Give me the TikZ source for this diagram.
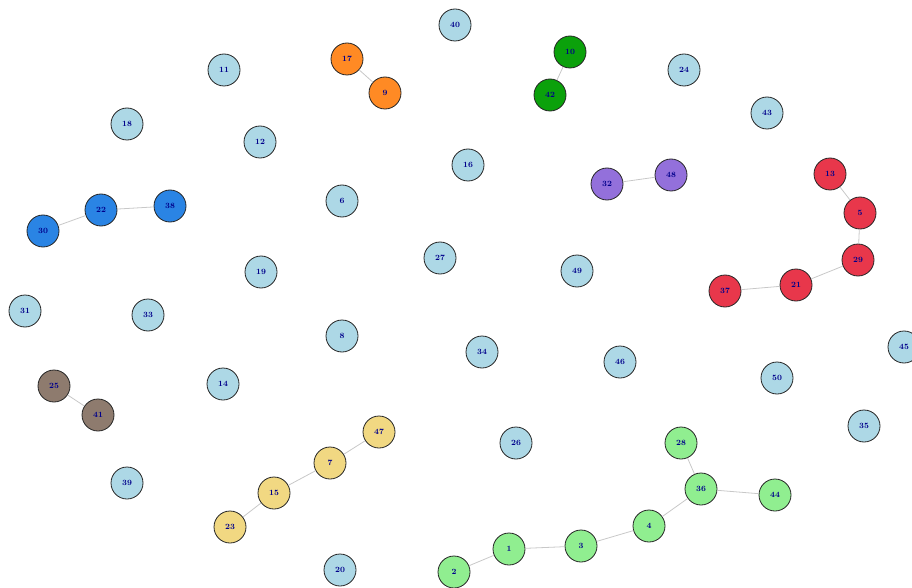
\documentclass[tikz,border=0pt]{standalone}
\usepackage{xcolor}
\usepackage{tikz}
\usetikzlibrary{positioning}

\definecolor{nodeblue}{HTML}{ADD8E6}
\definecolor{nodeorange}{HTML}{FF8A24}
\definecolor{nodegreen}{HTML}{0BA10B}
\definecolor{nodeazure}{HTML}{2A84E4}
\definecolor{nodepurple}{HTML}{9370DB}
\definecolor{nodered}{HTML}{E8374B}
\definecolor{nodebrown}{HTML}{8E7B6E}
\definecolor{nodeyellow}{HTML}{F1D882}
\definecolor{nodelime}{HTML}{90EE90}
\definecolor{labelnavy}{HTML}{00008B}
\definecolor{edgegray}{HTML}{C8C8C8}

\begin{document}
\begin{tikzpicture}[x=1pt, y=-1pt,
  vertex/.style={circle, draw=black!85, line width=0.8pt, minimum size=32pt, inner sep=0pt,
    font=\fontsize{8}{9}\selectfont\bfseries, text=labelnavy},
  link/.style={edgegray, line width=0.8pt}]
\useasboundingbox (0,0) rectangle (912,588);
% isolated and grouped vertices
\foreach \n/\x/\y/\c in {40/455/25/nodeblue, 10/570/52/nodegreen, 42/550/95/nodegreen,
    17/347/59/nodeorange, 9/385/93/nodeorange, 11/224/70/nodeblue, 24/684/70/nodeblue,
    43/767/113/nodeblue, 18/127/124/nodeblue, 12/260/142/nodeblue, 16/468/165/nodeblue,
    32/607/184/nodepurple, 48/671/175/nodepurple, 13/830/174/nodered, 5/860/213/nodered,
    29/858/260/nodered, 21/796/285/nodered, 37/725/291/nodered, 22/101/210/nodeazure,
    38/170/206/nodeazure, 30/43/231/nodeazure, 6/342/201/nodeblue, 27/440/258/nodeblue,
    49/577/271/nodeblue, 19/261/272/nodeblue, 31/25/311/nodeblue, 33/148/315/nodeblue,
    8/342/336/nodeblue, 34/482/352/nodeblue, 46/620/362/nodeblue, 45/904/347/nodeblue,
    50/777/378/nodeblue, 25/54/386/nodebrown, 41/98/415/nodebrown, 14/223/384/nodeblue,
    47/379/432/nodeyellow, 7/330/463/nodeyellow, 15/274/493/nodeyellow, 23/230/527/nodeyellow,
    39/127/483/nodeblue, 26/516/443/nodeblue, 28/681/443/nodelime, 36/701/489/nodelime,
    44/775/495/nodelime, 4/649/526/nodelime, 3/581/546/nodelime, 1/509/549/nodelime,
    2/454/572/nodelime, 20/340/570/nodeblue, 35/864/426/nodeblue} {
  \node[vertex, fill=\c] (v\n) at (\x,\y) {\n};
}
% edges
\foreach \a/\b in {30/22, 22/38, 17/9, 10/42, 32/48, 13/5, 5/29, 29/21, 21/37, 25/41,
    23/15, 15/7, 7/47, 2/1, 1/3, 3/4, 4/36, 36/28, 36/44} {
  \draw[link] (v\a) -- (v\b);
}
\end{tikzpicture}
\end{document}
